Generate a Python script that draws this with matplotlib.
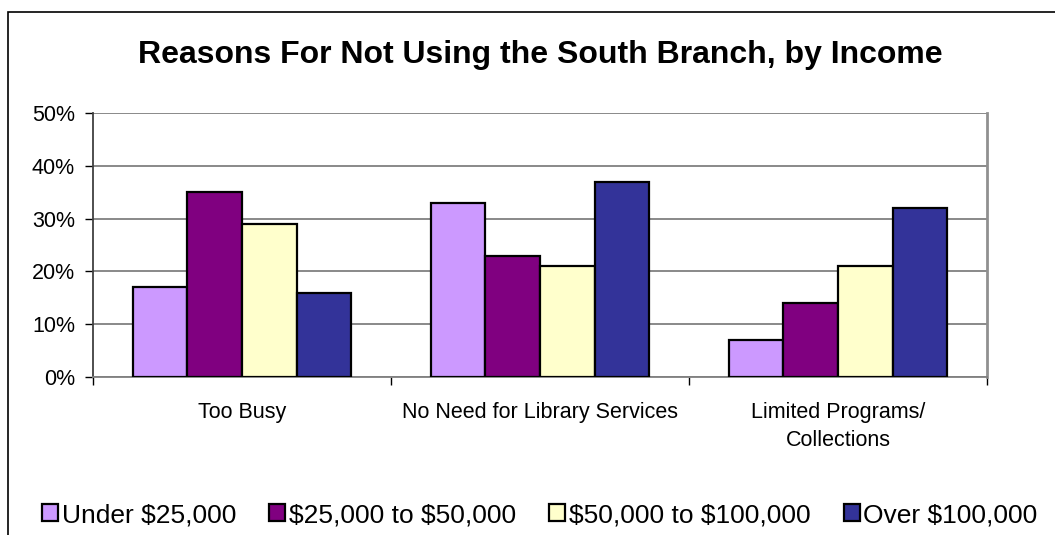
import numpy as np
import matplotlib.pyplot as plt
from matplotlib.patches import Rectangle

plt.rcParams['font.family'] = ['Liberation Sans', 'DejaVu Sans']
plt.rcParams['text.parse_math'] = False  # 标签里有 $ 符号

# --- 数据 ---
categories = ["Too Busy", "No Need for Library Services", "Limited Programs/\nCollections"]
income_groups = ["Under $25,000", "$25,000 to $50,000", "$50,000 to $100,000", "Over $100,000"]
under_25k = [17, 33, 7]
from_25k_to_50k = [35, 23, 14]
from_50k_to_100k = [29, 21, 21]
over_100k = [16, 37, 32]
y_ticks = [0, 10, 20, 30, 40, 50]

series = [under_25k, from_25k_to_50k, from_50k_to_100k, over_100k]
colors = ["#CC99FF", "#800080", "#FFFFCC", "#333399"]

fig = plt.figure(figsize=(10.55, 5.35), dpi=100)

# 外框
fig.patches.append(Rectangle((8 / 1055, -0.1), 1.2, 1 - 12 / 535 + 0.1,
                             transform=fig.transFigure, fill=False,
                             edgecolor="black", linewidth=1.2, zorder=0))

ax = fig.add_axes([93 / 1055, 1 - 377 / 535, (987 - 93) / 1055, (377 - 113) / 535])

x = np.arange(len(categories))
bar_w = 0.183
for i, (vals, col, name) in enumerate(zip(series, colors, income_groups)):
    offs = (i - 1.5) * bar_w
    ax.bar(x + offs, vals, width=bar_w, color=col, edgecolor="black",
           linewidth=1.6, label=name, zorder=3)

ax.set_xlim(-0.5, len(categories) - 0.5)
ax.set_ylim(0, 50)
ax.set_yticks(y_ticks)
ax.set_yticklabels([f"{v}%" for v in y_ticks], fontsize=15.5)
ax.yaxis.grid(True, color="#808080", linewidth=1.3, zorder=0)

# 分类标签放在组中间，刻度放在组边界
ax.set_xticks(np.arange(len(categories) + 1) - 0.5)
ax.set_xticklabels([])
ax.set_xticks(x, minor=True)
ax.set_xticklabels(categories, minor=True, fontsize=15.5, linespacing=1.45)
ax.tick_params(axis="x", which="minor", length=0, pad=18)
ax.tick_params(axis="x", which="major", length=6, width=1, direction="out", color="black")
ax.tick_params(axis="y", length=6, width=1, direction="out", pad=7)

ax.spines["left"].set_color("#404040")
ax.spines["left"].set_linewidth(1.3)
ax.spines["bottom"].set_color("#808080")
ax.spines["bottom"].set_linewidth(1.3)
ax.spines["right"].set_color("#909090")
ax.spines["right"].set_linewidth(2)
ax.spines["top"].set_visible(False)

fig.text(540 / 1055, 1 - 55 / 535, "Reasons For Not Using the South Branch, by Income",
         ha="center", va="center", fontsize=23, fontweight="bold")

fig.legend(loc="center", bbox_to_anchor=(540 / 1055, 1 - 515 / 535), ncol=4,
           frameon=False, fontsize=19, handlelength=0.6, handleheight=0.6,
           handletextpad=0.15, columnspacing=1.25, borderaxespad=0)

plt.savefig("out.png", dpi=100)
